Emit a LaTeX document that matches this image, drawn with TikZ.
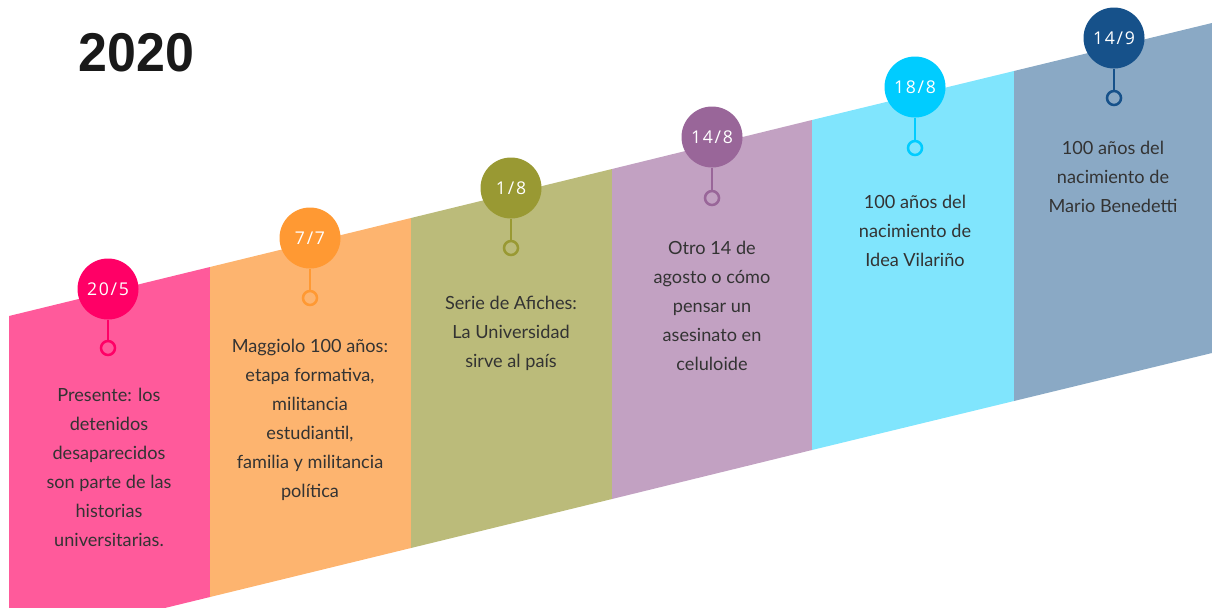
\documentclass[tikz,border=0pt]{standalone}
\usepackage{fontspec}
\setmainfont{Lato}
\newfontfamily\datefont{Open Sans}[LetterSpace=10]
\newfontfamily\titlefont{Liberation Sans}
\usepackage{tikz}

\definecolor{pinkband}{HTML}{FF5A9B}
\definecolor{pinkdot}{HTML}{FF0066}
\definecolor{orangeband}{HTML}{FDB46F}
\definecolor{orangedot}{HTML}{FF9933}
\definecolor{oliveband}{HTML}{BBBB7A}
\definecolor{olivedot}{HTML}{999933}
\definecolor{purpleband}{HTML}{C2A1C2}
\definecolor{purpledot}{HTML}{996699}
\definecolor{cyanband}{HTML}{80E5FD}
\definecolor{cyandot}{HTML}{00CCFF}
\definecolor{steelband}{HTML}{8AA9C5}
\definecolor{steeldot}{HTML}{16518A}
\definecolor{bodytext}{HTML}{333333}

\tikzset{every picture/.style={line width=0.75pt}}
\tikzset{
  datebubble/.style={circle,inner sep=0pt,minimum size=45.75pt,text=white,font=\datefont\fontsize{13.2}{15}\selectfont},
  stemring/.style={circle,draw,line width=1.9pt,fill=none,inner sep=0pt,minimum size=10.5pt},
  stemline/.style={line width=1.9pt},
  eventtext/.style={anchor=north,inner sep=0pt,align=center,text=bodytext,font=\fontsize{13.6}{21.75}\selectfont}
}

\begin{document}
\begin{tikzpicture}[x=0.75pt,y=0.75pt,yscale=-1,xscale=1]
\useasboundingbox (0,0) rectangle (1212,607);
\clip (0,0) rectangle (1212,607);

%Shape: Polygon [pink band]
\fill [pinkband] (9,316) -- (210,267) -- (210,597) -- (9,646) -- cycle ;
%Shape: Polygon [orange band]
\fill [orangeband] (210,267) -- (411,218) -- (411,548) -- (210,597) -- cycle ;
%Shape: Polygon [olive band]
\fill [oliveband] (411,218) -- (612,169) -- (612,499) -- (411,548) -- cycle ;
%Shape: Polygon [purple band]
\fill [purpleband] (612,169) -- (812,120) -- (812,450) -- (612,499) -- cycle ;
%Shape: Polygon [cyan band]
\fill [cyanband] (812,120) -- (1014,71) -- (1014,401) -- (812,450) -- cycle ;
%Shape: Polygon [steel band]
\fill [steelband] (1014,71) -- (1212,23) -- (1212,353) -- (1014,401) -- cycle ;

% Title
\draw (78,71) node [anchor=base west,inner sep=0pt,text=black!90] (title) {\scalebox{0.95}[1]{\titlefont\bfseries\fontsize{41}{41}\selectfont 2020}};

% Date bubbles and rings
\node [datebubble,fill=pinkdot] (d1) at (108,289) {20/5};
\node [stemring,draw=pinkdot] (r1) at (108,348) {};
\draw [stemline,pinkdot] (d1) -- (r1);

\node [datebubble,fill=orangedot] (d2) at (310,238) {7/7};
\node [stemring,draw=orangedot] (r2) at (310,298) {};
\draw [stemline,orangedot] (d2) -- (r2);

\node [datebubble,fill=olivedot] (d3) at (511,188) {1/8};
\node [stemring,draw=olivedot] (r3) at (511,248) {};
\draw [stemline,olivedot] (d3) -- (r3);

\node [datebubble,fill=purpledot] (d4) at (712,137) {14/8};
\node [stemring,draw=purpledot] (r4) at (712,198) {};
\draw [stemline,purpledot] (d4) -- (r4);

\node [datebubble,fill=cyandot] (d5) at (915,87) {18/8};
\node [stemring,draw=cyandot] (r5) at (915,148) {};
\draw [stemline,cyandot] (d5) -- (r5);

\node [datebubble,fill=steeldot] (d6) at (1114,38) {14/9};
\node [stemring,draw=steeldot] (r6) at (1114,98) {};
\draw [stemline,steeldot] (d6) -- (r6);

% Text Node
\node [eventtext] (t1) at (109,388) {Presente: los\\detenidos\\desaparecidos\\son parte de las\\historias\\universitarias.};
% Text Node
\node [eventtext] (t2) at (310,339) {Maggiolo 100 años:\\etapa formativa,\\militancia\\estudiantil,\\familia y militancia\\política};
% Text Node
\node [eventtext] (t3) at (511,296) {Serie de Afiches:\\La Universidad\\sirve al país};
% Text Node
\node [eventtext] (t4) at (712,241) {Otro 14 de\\agosto o cómo\\pensar un\\asesinato en\\celuloide};
% Text Node
\node [eventtext] (t5) at (915,195) {100 años del\\nacimiento de\\Idea Vilariño};
% Text Node
\node [eventtext] (t6) at (1113,141) {100 años del\\nacimiento de\\Mario Benedetti};

\end{tikzpicture}
\end{document}
